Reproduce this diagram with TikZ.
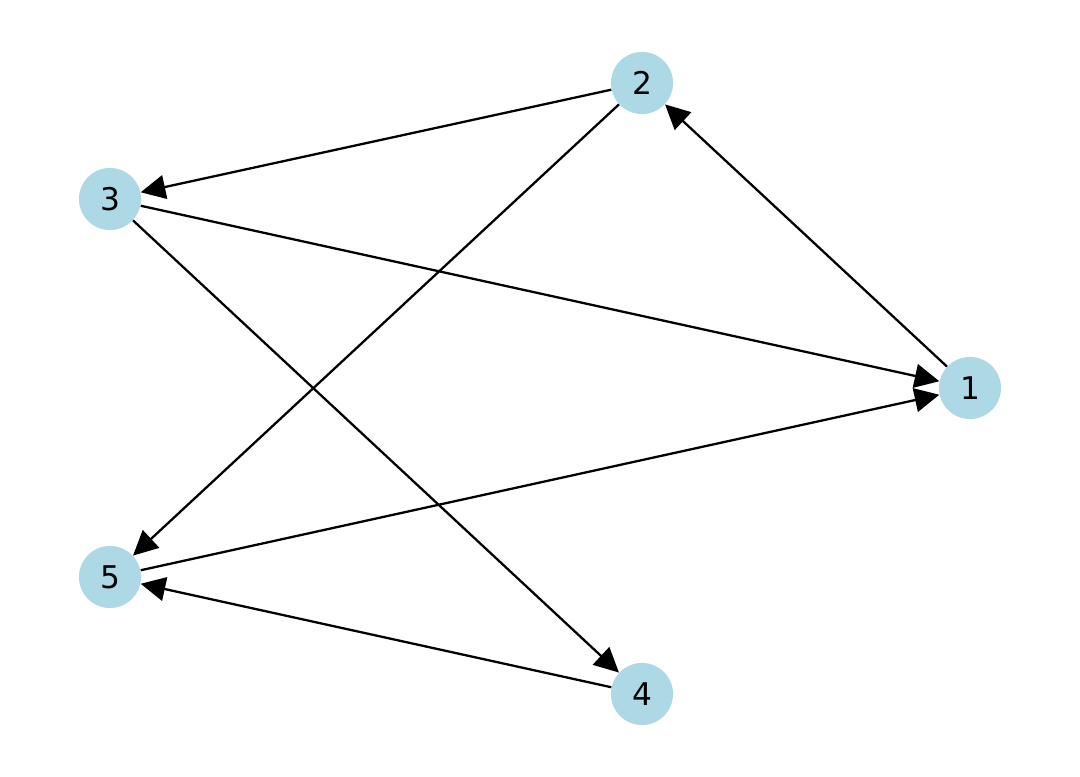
\documentclass[tikz,border=0pt]{standalone}
\usepackage{fontspec}
\setmainfont{DejaVu Sans}
\usetikzlibrary{arrows.meta}
\definecolor{nodeblue}{HTML}{ADD8E6}
\begin{document}
\begin{tikzpicture}[x=0.48pt,y=-0.48pt,
  vertex/.style={circle,fill=nodeblue,draw=none,minimum size=29.8pt,inner sep=0pt,font=\fontsize{15}{17}\selectfont},
  edge/.style={line width=1.1pt,-{Triangle[length=11.8pt,width=11.5pt]}}]
\useasboundingbox (0,0) rectangle (1080,777);
\node[vertex] (n1) at (970,388) {1};
\node[vertex] (n2) at (642,83) {2};
\node[vertex] (n3) at (110,199) {3};
\node[vertex] (n4) at (642,694) {4};
\node[vertex] (n5) at (110,577) {5};
\draw[edge] (n1) -- (n2);
\draw[edge] (n2) -- (n3);
\draw[edge] (n2) -- (n5);
\draw[edge] (n3) -- (n1);
\draw[edge] (n3) -- (n4);
\draw[edge] (n5) -- (n1);
\draw[edge] (n4) -- (n5);
\end{tikzpicture}
\end{document}
